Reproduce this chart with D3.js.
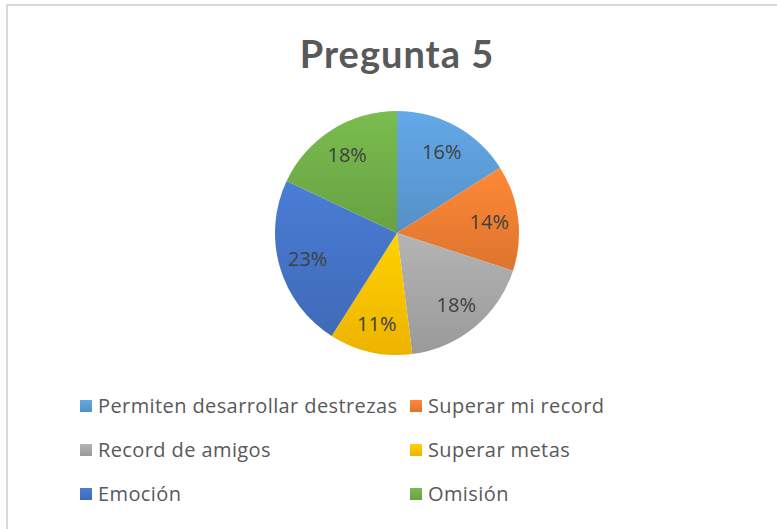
<!DOCTYPE html>
<html>
<head>
<meta charset="utf-8">
<script src="https://cdn.jsdelivr.net/npm/d3@7"></script>
<style>
  body { margin: 0; background: #fff; }
  svg { display: block; }
</style>
</head>
<body>
<svg id="chart" width="777" height="529"></svg>
<script>
// données du graphique
const titre = "Pregunta 5";
const categories = ["Permiten desarrollar destrezas", "Superar mi record", "Record de amigos", "Superar metas", "Emoción", "Omisión"];
const valeurs = [16, 14, 18, 11, 23, 18];
const couleurs = ["#5b9bd5", "#ed7d31", "#a5a5a5", "#ffc000", "#4472c4", "#70ad47"];

const svg = d3.select("#chart");
const police = "'Open Sans', sans-serif";

// cadre du graphique
svg.append("rect")
  .attr("x", 7).attr("y", 5)
  .attr("width", 800).attr("height", 600)
  .attr("fill", "#fff")
  .attr("stroke", "#d9d9d9")
  .attr("stroke-width", 2);

// titre
svg.append("text")
  .attr("x", 397).attr("y", 68)
  .attr("text-anchor", "middle")
  .attr("font-family", "Lato, sans-serif")
  .attr("font-weight", "bold")
  .attr("font-size", 38)
  .attr("letter-spacing", 1)
  .attr("fill", "#595959")
  .text(titre);

// dégradés pour chaque part
const defs = svg.append("defs");
couleurs.forEach(function(c, i) {
  const g = defs.append("linearGradient")
    .attr("id", "grad" + i)
    .attr("x1", 0).attr("y1", 0).attr("x2", 0).attr("y2", 1);
  g.append("stop").attr("offset", "0%").attr("stop-color", d3.color(c).brighter(0.25));
  g.append("stop").attr("offset", "100%").attr("stop-color", d3.color(c).darker(0.2));
});

// camembert
const cx = 397, cy = 233, r = 122;
const pie = d3.pie().sort(null).value(function(d) { return d; });
const arc = d3.arc().innerRadius(0).outerRadius(r);
const arcLabel = d3.arc().innerRadius(93).outerRadius(93);
const total = d3.sum(valeurs);

const g = svg.append("g").attr("transform", `translate(${cx},${cy})`);

g.selectAll("path")
  .data(pie(valeurs))
  .enter()
  .append("path")
  .attr("d", arc)
  .attr("fill", function(d, i) { return "url(#grad" + i + ")"; });

g.selectAll("text")
  .data(pie(valeurs))
  .enter()
  .append("text")
  .attr("transform", function(d) { return `translate(${arcLabel.centroid(d)})`; })
  .attr("text-anchor", "middle")
  .attr("dy", "0.36em")
  .attr("font-family", police)
  .attr("font-size", 20)
  .attr("fill", "#404040")
  .text(function(d) { return Math.round(d.data / total * 100) + "%"; });

// légende
const legende = svg.append("g").attr("font-family", police);
const colX = [80, 410];
const rowY = [406, 450, 494];

categories.forEach(function(nom, i) {
  const x = colX[i % 2];
  const y = rowY[Math.floor(i / 2)];
  legende.append("rect")
    .attr("x", x).attr("y", y - 6)
    .attr("width", 12).attr("height", 12)
    .attr("fill", "url(#grad" + i + ")");
  legende.append("text")
    .attr("x", x + 18).attr("y", y)
    .attr("dy", "0.36em")
    .attr("font-size", 20)
    .attr("letter-spacing", 0.4)
    .attr("fill", "#595959")
    .text(nom);
});
</script>
</body>
</html>
